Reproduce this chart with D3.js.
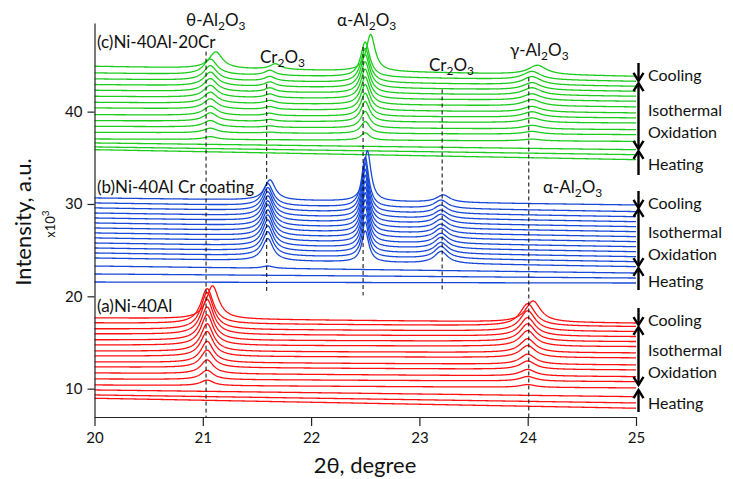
<!DOCTYPE html>
<html><head><meta charset="utf-8">
<script src="https://cdn.jsdelivr.net/npm/d3@7"></script>
<style>
html,body{margin:0;padding:0;background:#fff;}
svg text{font-family:Lato,"Open Sans",sans-serif;fill:#111;}
</style></head>
<body><svg id="c" width="733" height="479"></svg>
<script>
// ---------------- data (intensity in units of 10^3) ----------------
const xTicks = [20, 21, 22, 23, 24, 25];
const yTicks = [10, 20, 30, 40];
// stage of each scan, bottom -> top : H = heating, I = isothermal oxidation, C = cooling
const scanPhase = ["H","H","H","I","I","I","I","I","I","I","I","I","I","I","I","C"];

// (a) Ni-40Al  (red)
const redBaseStart = [8.96, 9.32, 9.86, 10.40, 11.05, 11.70, 12.35, 12.89, 13.54, 14.08, 14.73, 15.28, 15.93, 16.47, 17.12, 17.66];
const redBaseEnd   = [7.88, 8.45, 9.13, 10.08, 10.76, 11.30, 12.03, 12.57, 13.33, 13.87, 14.55, 15.09, 15.63, 16.18, 16.72, 17.09];
const redPeakPos   = [21.04, 24.00];
const redPeakWidth = [0.07, 0.085];
const redPeakHeight = [
  [0, 0, 0, 0.6, 1.0, 1.5, 1.9, 2.3, 2.7, 3.0, 3.3, 3.6, 3.8, 4.0, 3.8, 3.6],   // theta-Al2O3
  [0, 0, 0, 0.3, 0.5, 0.7, 0.9, 1.1, 1.3, 1.5, 1.7, 1.9, 2.0, 2.2, 2.4, 2.3]    // gamma-Al2O3
];

// (b) Ni-40Al Cr coating  (blue)
const blueBaseStart = [21.55, 22.42, 23.28, 24.15, 24.69, 25.23, 25.77, 26.32, 26.86, 27.40, 27.94, 28.48, 29.02, 29.57, 30.11, 30.65];
const blueBaseEnd   = [21.44, 21.98, 22.52, 23.21, 23.75, 24.29, 24.83, 25.37, 25.92, 26.46, 27.00, 27.54, 28.08, 28.62, 29.17, 29.89];
const bluePeakPos   = [21.60, 22.50, 23.20];
const bluePeakWidth = [0.06, 0.04, 0.075];
const bluePeakHeight = [
  [0, 0, 0.25, 2.4, 2.6, 2.7, 2.8, 2.8, 2.8, 2.8, 2.7, 2.7, 2.6, 2.5, 2.4, 2.2],  // Cr2O3
  [0, 0, 0, 3.4, 3.8, 4.1, 4.4, 4.6, 4.8, 4.9, 5.0, 5.1, 5.2, 5.3, 5.4, 5.5],     // alpha-Al2O3
  [0, 0, 0, 1.3, 1.3, 1.2, 1.2, 1.1, 1.1, 1.0, 1.0, 1.0, 0.9, 0.9, 0.9, 0.8]      // Cr2O3
];

// (c) Ni-40Al-20Cr  (green)
const greenBaseStart = [35.88, 36.18, 36.61, 37.04, 37.76, 38.41, 39.02, 39.67, 40.40, 41.01, 41.66, 42.31, 42.93, 43.54, 44.19, 44.91];
const greenBaseEnd   = [34.80, 35.34, 35.88, 36.78, 37.51, 38.05, 38.77, 39.32, 39.86, 40.51, 41.12, 41.66, 42.20, 42.74, 43.28, 43.82];
const greenPeakPos   = [21.07, 21.62, 22.50, 24.04];
const greenPeakWidth = [0.075, 0.06, 0.05, 0.10];
const greenPeakHeight = [
  [0, 0, 0, 0.3, 0.5, 0.7, 0.9, 1.0, 1.1, 1.2, 1.3, 1.4, 1.5, 1.6, 1.7, 1.8],          // theta-Al2O3
  [0, 0, 0, 0, 0.1, 0.15, 0.2, 0.25, 0.3, 0.35, 0.4, 0.45, 0.5, 0.5, 0.55, 0.6],       // Cr2O3
  [0, 0, 0, 0.8, 1.3, 1.8, 2.2, 2.5, 2.8, 3.0, 3.2, 3.4, 3.6, 3.7, 3.8, 4.0],          // alpha-Al2O3
  [0, 0, 0, 0.2, 0.3, 0.4, 0.5, 0.6, 0.6, 0.7, 0.7, 0.8, 0.8, 0.9, 0.9, 1.0]           // gamma-Al2O3
];
const coolingShift = [0.05, 0.02, 0.05]; // red, blue, green peak shift on cooling (deg)

// reference lines (2theta) and their vertical extent (10^3)
const refLinePos  = [21.03, 21.59, 22.48, 23.21, 24.01];
const refLineTop  = [46.5, 43.0, 47.0, 42.4, 43.7];
const refLineBot  = [6.93, 20.4, 20.1, 20.4, 6.93];

// stage arrows at the right (10^3): [cooling top, cooling bottom], [iso top, iso bottom], [heat top, heat bottom]
const groupArrows = [
  [[18.73, 16.89], [16.68, 10.40], [9.85, 7.47]],
  [[31.41, 29.57], [29.46, 23.28], [23.07, 20.68]],
  [[45.27, 43.32], [43.10, 35.96], [35.74, 33.14]]
];

// ---------------- drawing ----------------
const svg = d3.select("#c");
const x = d3.scaleLinear().domain([20, 25]).range([94.5, 636]);
const y = d3.scaleLinear().domain([6.93, 49.6]).range([417, 23]);

const groups = [
  {start: redBaseStart, end: redBaseEnd, pos: redPeakPos, w: redPeakWidth, h: redPeakHeight, color: "#ff1010", shift: coolingShift[0]},
  {start: blueBaseStart, end: blueBaseEnd, pos: bluePeakPos, w: bluePeakWidth, h: bluePeakHeight, color: "#1848d8", shift: coolingShift[1]},
  {start: greenBaseStart, end: greenBaseEnd, pos: greenPeakPos, w: greenPeakWidth, h: greenPeakHeight, color: "#1ccc1c", shift: coolingShift[2]}
];

const xs = d3.range(0, 1001).map(i => 20 + i * 0.005);
const line = d3.line().x(d => x(d[0])).y(d => y(d[1]));

function scan(g, k) {
  return xs.map(t => {
    const f = (t - 20) / 5;
    let v = g.start[k] * (1 - f) + g.end[k] * f;
    g.pos.forEach((p, j) => {
      const c = p + (scanPhase[k] === "C" ? g.shift : 0);
      const u = (t - c) / g.w[j];
      v += g.h[j][k] / (1 + u * u);
    });
    return [t, v];
  });
}

const plot = svg.append("g");
// draw green, then blue, then red
[2, 1, 0].forEach(gi => {
  const g = groups[gi];
  const gg = plot.append("g");
  g.start.forEach((_, k) => {
    gg.append("path").attr("d", line(scan(g, k)))
      .attr("fill", "none").attr("stroke", g.color).attr("stroke-width", 1.3)
      .attr("stroke-linejoin", "round");
  });
});

// dashed reference lines
refLinePos.forEach((p, i) => {
  svg.append("line").attr("x1", x(p)).attr("x2", x(p))
    .attr("y1", y(refLineTop[i])).attr("y2", y(refLineBot[i]))
    .attr("stroke", "#000").attr("stroke-width", 1).attr("stroke-dasharray", "4,3");
});

// axes
const xAxis = svg.append("g").attr("transform", "translate(0,417)")
  .call(d3.axisBottom(x).tickValues(xTicks).tickFormat(d3.format("d")).tickSize(9).tickSizeOuter(0).tickPadding(6));
const yAxis = svg.append("g").attr("transform", "translate(94.5,0)")
  .call(d3.axisLeft(y).tickValues(yTicks).tickFormat(d3.format("d")).tickSize(7).tickSizeOuter(0).tickPadding(5));
[xAxis, yAxis].forEach(a => {
  a.selectAll("path,line").attr("stroke", "#222").attr("stroke-width", 1.2);
  a.selectAll("text").attr("font-size", 15).attr("fill", "#222").style("font-family", "Lato,'Open Sans',sans-serif");
});

svg.append("text").attr("x", 365).attr("y", 473).attr("text-anchor", "middle")
  .attr("font-size", 22).text("2θ, degree");
svg.append("text").attr("transform", "translate(31,222) rotate(-90)").attr("text-anchor", "middle")
  .attr("font-size", 22).text("Intensity, a.u.");
const xl = svg.append("text").attr("transform", "translate(55,224) rotate(-90)").attr("text-anchor", "middle")
  .attr("font-size", 13);
xl.append("tspan").text("x10");
xl.append("tspan").attr("dy", -6).attr("font-size", 10).text("3");

// chemical labels with subscripts
function chem(xp, yp, parts, anchor) {
  const t = svg.append("text").attr("x", xp).attr("y", yp).attr("font-size", 17)
    .attr("text-anchor", anchor || "start");
  let down = false;
  parts.forEach(p => {
    const sub = p.startsWith("_");
    const s = t.append("tspan").text(sub ? p.slice(1) : p);
    if (sub && !down) { s.attr("dy", 4).attr("font-size", 12); down = true; }
    else if (sub) { s.attr("font-size", 12); }
    else if (down) { s.attr("dy", -4); down = false; }
  });
  return t;
}
chem(186, 26, ["θ-Al", "_2", "O", "_3"]);
chem(337, 26, ["α-Al", "_2", "O", "_3"]);
chem(260, 63, ["Cr", "_2", "O", "_3"]);
chem(429, 71, ["Cr", "_2", "O", "_3"]);
chem(510, 56, ["γ-Al", "_2", "O", "_3"]);
chem(543, 193, ["α-Al", "_2", "O", "_3"]);

svg.append("text").attr("x", 97).attr("y", 48).attr("font-size", 17).text("(c)Ni-40Al-20Cr");
svg.append("text").attr("x", 97).attr("y", 193).attr("font-size", 17).text("(b)Ni-40Al Cr coating");
svg.append("text").attr("x", 97).attr("y", 312).attr("font-size", 17).text("(a)Ni-40Al");

// stage arrows and labels
const ax = 638.5;
function head(px, py, dir) {
  svg.append("path").attr("d", `M${px - 5},${py - dir * 8}L${px},${py}L${px + 5},${py - dir * 8}`)
    .attr("fill", "none").attr("stroke", "#000").attr("stroke-width", 2.4);
}
groupArrows.forEach(arr => {
  const [cool, iso, heat] = arr;
  svg.append("line").attr("x1", ax).attr("x2", ax).attr("y1", y(cool[0])).attr("y2", y(cool[1]))
    .attr("stroke", "#000").attr("stroke-width", 2.4);
  head(ax, y(cool[1]), 1);
  svg.append("line").attr("x1", ax).attr("x2", ax).attr("y1", y(iso[0])).attr("y2", y(iso[1]))
    .attr("stroke", "#000").attr("stroke-width", 2.4);
  head(ax, y(iso[0]), -1); head(ax, y(iso[1]), 1);
  svg.append("line").attr("x1", ax).attr("x2", ax).attr("y1", y(heat[0])).attr("y2", y(heat[1]))
    .attr("stroke", "#000").attr("stroke-width", 2.4);
  head(ax, y(heat[0]), -1);

  const lx = 648;
  svg.append("text").attr("x", lx).attr("y", (y(cool[0]) + y(cool[1])) / 2 + 3).attr("dominant-baseline", "central")
    .attr("font-size", 16).text("Cooling");
  const im = (y(iso[0]) + y(iso[1])) / 2;
  svg.append("text").attr("x", lx).attr("y", im - 6).attr("dominant-baseline", "central").attr("font-size", 16).text("Isothermal");
  svg.append("text").attr("x", lx).attr("y", im + 16).attr("dominant-baseline", "central").attr("font-size", 16).text("Oxidation");
  svg.append("text").attr("x", lx).attr("y", (y(heat[0]) + y(heat[1])) / 2 + 1).attr("dominant-baseline", "central")
    .attr("font-size", 16).text("Heating");
});
</script></body></html>
